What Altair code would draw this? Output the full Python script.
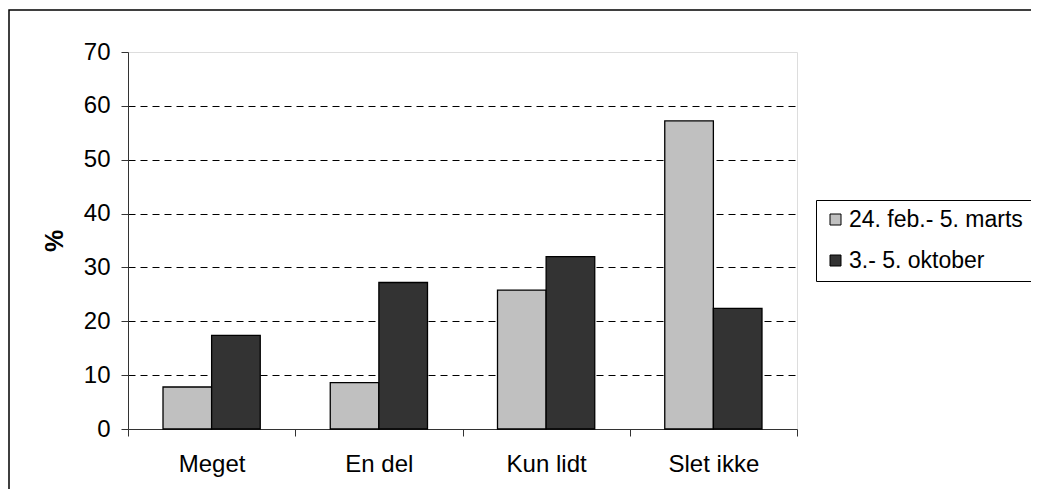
import altair as alt
import pandas as pd

categories = ["Meget", "En del", "Kun lidt", "Slet ikke"]
series = ["24. feb.- 5. marts", "3.- 5. oktober"]
feb_marts = [7.8, 8.6, 25.8, 57.2]
oktober = [17.4, 27.2, 32.0, 22.4]
colors = ["#C0C0C0", "#333333"]
y_ticks = [0, 10, 20, 30, 40, 50, 60, 70]

rows = []
for i, c in enumerate(categories):
    rows.append({"kategori": c, "periode": series[0], "pct": feb_marts[i]})
    rows.append({"kategori": c, "periode": series[1], "pct": oktober[i]})
df = pd.DataFrame(rows)

FONT = "Liberation Sans"

bars = alt.Chart(df).mark_bar(stroke="black", strokeWidth=1.3).encode(
    x=alt.X(
        "kategori:N", sort=categories, title=None,
        scale=alt.Scale(paddingInner=0, paddingOuter=0),
        axis=alt.Axis(labelAngle=0, tickBand="extent", tickSize=7, labelPadding=16,
                      labelFontSize=24, labelFont=FONT, labelColor="black",
                      domainColor="#333333", tickColor="#333333", grid=False),
    ),
    xOffset=alt.XOffset("periode:N", sort=series,
                        scale=alt.Scale(paddingOuter=0.72, paddingInner=0)),
    y=alt.Y(
        "pct:Q", title="%",
        scale=alt.Scale(domain=[0, 70], nice=False),
        axis=alt.Axis(values=y_ticks, tickSize=7, labelPadding=11, labelFontSize=24,
                      labelFont=FONT, labelColor="black",
                      domainColor="#333333", tickColor="#333333",
                      grid=True, gridColor="black", gridDash=[7, 5], gridWidth=1,
                      gridOpacity={"condition": {"test": "datum.value == 0 || datum.value == 70",
                                                 "value": 0}, "value": 1},
                      titleFont=FONT, titleFontSize=25, titleFontWeight="bold",
                      titleColor="black", titlePadding=16),
    ),
    color=alt.Color(
        "periode:N", sort=series,
        scale=alt.Scale(domain=series, range=colors),
        legend=alt.Legend(title=None, orient="none", legendX=688, legendY=148,
                          strokeColor="black", fillColor="white", padding=8,
                          labelFont=FONT, labelFontSize=23, labelColor="black",
                          labelLimit=400, labelOffset=2,
                          symbolType="square", symbolSize=121,
                          symbolStrokeColor="black", symbolStrokeWidth=1,
                          symbolOpacity=1, rowPadding=17),
    ),
)

frame = alt.Chart(pd.DataFrame({"a": [0]})).mark_rect(
    fill="transparent", stroke="black", strokeWidth=1.5
).encode(
    x=alt.value(-119), x2=alt.value(1100), y=alt.value(-42), y2=alt.value(600)
)

chart = alt.layer(frame, bars).properties(
    width=669, height=377,
    padding={"left": 120, "top": 44, "right": 234, "bottom": 60},
    autosize="none",
).configure_view(stroke="#808080", strokeWidth=1.2).configure(font=FONT)

chart.save("out.html", embed_options={"renderer": "svg", "actions": False})
